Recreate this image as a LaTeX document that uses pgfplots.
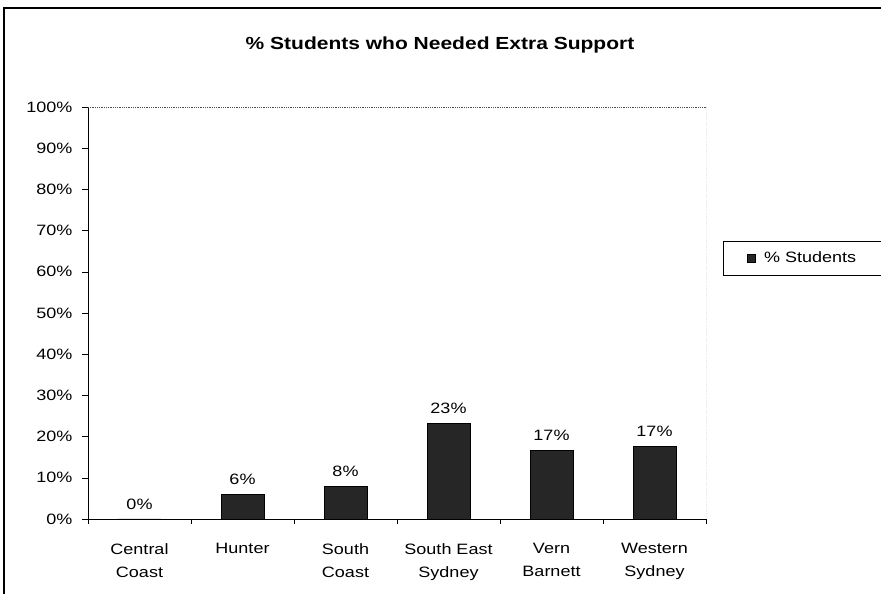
\documentclass[border=0pt]{standalone}
\usepackage{pgfplots}
\pgfplotsset{compat=1.18}
\usepackage{fontspec}
\setmainfont{Liberation Sans}[FakeStretch=1.2]
\begin{document}
\begin{tikzpicture}[x=1pt,y=1pt]
\path[use as bounding box] (-88,-75) rectangle (793,519);
\draw[line width=1.2pt] (-84,-75) -- (-84,511) -- (793,511);
\node[font=\bfseries\fontsize{17.5}{21}\selectfont] at (352,474) {\% Students who Needed Extra Support};
\begin{axis}[
  scale only axis, width=618pt, height=412pt,
  xmin=-0.5, xmax=5.5, ymin=0, ymax=100,
  axis x line*=bottom, axis y line*=left,
  axis line style={black, line width=0.8pt},
  tick align=outside,
  ytick={0,10,...,100},
  yticklabels={0\%,10\%,20\%,30\%,40\%,50\%,60\%,70\%,80\%,90\%,100\%},
  xtick={0,1,2,3,4,5},
  xticklabels={Central\\Coast,Hunter,South\\Coast,South East\\Sydney,Vern\\Barnett,Western\\Sydney},
  minor xtick={-0.5,0.5,1.5,2.5,3.5,4.5,5.5},
  major x tick style={draw=none},
  minor x tick style={black},
  minor tick length=5pt,
  major tick length=6pt,
  ytick style={black},
  tick label style={font=\fontsize{15}{23}\selectfont},
  y tick label style={xshift=-6pt},
  x tick label style={align=center, yshift=-15pt},
  legend style={at={(1.0275,0.633)}, anchor=west, draw=black, line width=0.8pt, inner xsep=24pt, inner ysep=9pt, font=\fontsize{15}{18}\selectfont},
  legend cell align=left,
]
\addplot[ybar, fill=black!85, draw=black, line width=0.8pt, bar width=43pt,
  legend image code/.code={\draw[fill=black!85, draw=black, line width=0.6pt] (0pt,-4pt) rectangle (8pt,4pt); \path (14pt,0pt);},
  nodes near coords, point meta=explicit symbolic,
  nodes near coords style={font=\fontsize{15}{18}\selectfont, black, yshift=6pt}]
  coordinates {(0,0)[0\%] (1,6)[6\%] (2,7.8)[8\%] (3,23.3)[23\%] (4,16.7)[17\%] (5,17.7)[17\%]};
\addlegendentry{\% Students}
\draw[black!70, densely dotted, line width=0.8pt] (rel axis cs:0,1) -- (rel axis cs:1,1) -- (rel axis cs:1,0);
\end{axis}
\end{tikzpicture}
\end{document}
